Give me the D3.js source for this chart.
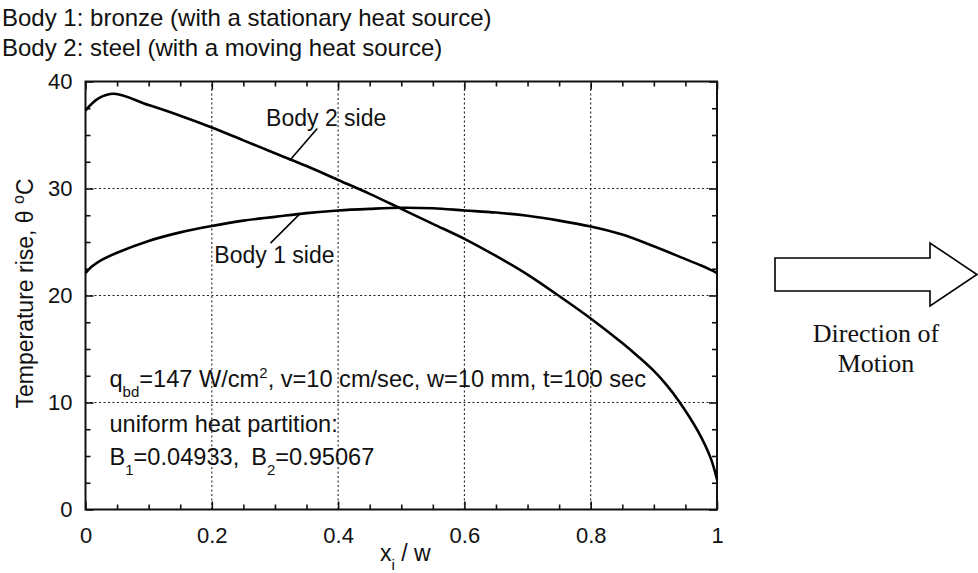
<!DOCTYPE html>
<html>
<head>
<meta charset="utf-8">
<script src="https://cdn.jsdelivr.net/npm/d3@7"></script>
<style>
  html, body { margin: 0; padding: 0; background: #fff; }
  svg { display: block; }
  text { font-family: "Liberation Sans", Arial, Helvetica, sans-serif; fill: #111; }
</style>
</head>
<body>
<script>
// ---- data ----
const titleLines = [
  "Body 1: bronze (with a stationary heat source)",
  "Body 2: steel (with a moving heat source)"
];
const xMajorTicks = [0, 0.2, 0.4, 0.6, 0.8, 1];
const xTickLabels = ["0", "0.2", "0.4", "0.6", "0.8", "1"];
const yMajorTicks = [0, 10, 20, 30, 40];
const yTickLabels = ["0", "10", "20", "30", "40"];
const xGrid = [0.2, 0.4, 0.6, 0.8];
const yGrid = [10, 20, 30];

const body1X = [0, 0.01, 0.025, 0.05, 0.1, 0.15, 0.2, 0.25, 0.3, 0.35, 0.4, 0.45, 0.5, 0.55, 0.6, 0.65, 0.7, 0.75, 0.8, 0.85, 0.9, 0.95, 0.975, 0.99, 1.0];
const body1Y = [22.1, 22.7, 23.3, 24.0, 25.1, 25.9, 26.5, 27.0, 27.35, 27.7, 27.95, 28.1, 28.2, 28.15, 27.95, 27.75, 27.45, 27.0, 26.45, 25.7, 24.6, 23.4, 22.8, 22.4, 22.1];

const body2X = [0, 0.02, 0.045, 0.1, 0.15, 0.2, 0.25, 0.3, 0.35, 0.4, 0.45, 0.5, 0.55, 0.6, 0.65, 0.7, 0.75, 0.8, 0.85, 0.875, 0.9, 0.92, 0.94, 0.97, 0.99, 1.0];
const body2Y = [37.3, 38.4, 38.85, 37.8, 36.8, 35.7, 34.5, 33.3, 32.1, 30.8, 29.5, 28.1, 26.7, 25.3, 23.7, 21.95, 19.95, 17.85, 15.55, 14.3, 12.95, 11.65, 10.1, 7.3, 4.8, 2.8];

// ---- layout ----
const W = 978, H = 573;
const svg = d3.select("body").append("svg").attr("width", W).attr("height", H);

const x = d3.scaleLinear().domain([0, 1]).range([85.5, 717]);
const y = d3.scaleLinear().domain([0, 40]).range([509.5, 81.5]);

// titles
svg.selectAll("text.title").data(titleLines).enter().append("text")
  .attr("class", "title")
  .attr("x", 2)
  .attr("y", (d, i) => 26 + i * 30)
  .style("font-size", "24px")
  .text(d => d);

// gridlines
const grid = svg.append("g").attr("stroke", "#222").attr("stroke-width", 1.1).attr("stroke-dasharray", "2,2.5");
grid.selectAll("line.gx").data(xGrid).enter().append("line")
  .attr("x1", d => x(d)).attr("x2", d => x(d))
  .attr("y1", y(0)).attr("y2", y(40));
grid.selectAll("line.gy").data(yGrid).enter().append("line")
  .attr("x1", x(0)).attr("x2", x(1))
  .attr("y1", d => y(d)).attr("y2", d => y(d));

// minor ticks
const xMinor = d3.range(0, 1.0001, 0.05).filter(v => Math.abs(v * 5 - Math.round(v * 5)) > 1e-6);
const yMinor = d3.range(0, 40.001, 2.5).filter(v => v % 10 !== 0);

function styleAxis(g) {
  g.select(".domain").remove();
  g.selectAll(".tick line").attr("stroke", "#111").attr("stroke-width", 1.6);
  g.selectAll(".tick text").style("font-size", "22px").attr("fill", "#111")
    .style("font-family", "'Liberation Sans', Arial, Helvetica, sans-serif");
}

// bottom axis (major, labels)
svg.append("g").attr("transform", `translate(0,${y(0)})`)
  .call(d3.axisBottom(x).tickValues(xMajorTicks).tickSize(-8).tickPadding(18)
    .tickFormat((d, i) => xTickLabels[i]))
  .call(styleAxis);
svg.append("g").attr("transform", `translate(0,${y(0)})`)
  .call(d3.axisBottom(x).tickValues(xMinor).tickSize(-5).tickFormat(""))
  .call(styleAxis);
// top axis
svg.append("g").attr("transform", `translate(0,${y(40)})`)
  .call(d3.axisTop(x).tickValues(xMajorTicks).tickSize(-8).tickFormat(""))
  .call(styleAxis);
svg.append("g").attr("transform", `translate(0,${y(40)})`)
  .call(d3.axisTop(x).tickValues(xMinor).tickSize(-5).tickFormat(""))
  .call(styleAxis);
// left axis
svg.append("g").attr("transform", `translate(${x(0)},0)`)
  .call(d3.axisLeft(y).tickValues(yMajorTicks).tickSize(-8).tickPadding(13)
    .tickFormat((d, i) => yTickLabels[i]))
  .call(styleAxis);
svg.append("g").attr("transform", `translate(${x(0)},0)`)
  .call(d3.axisLeft(y).tickValues(yMinor).tickSize(-5).tickFormat(""))
  .call(styleAxis);
// right axis
svg.append("g").attr("transform", `translate(${x(1)},0)`)
  .call(d3.axisRight(y).tickValues(yMajorTicks).tickSize(-8).tickFormat(""))
  .call(styleAxis);
svg.append("g").attr("transform", `translate(${x(1)},0)`)
  .call(d3.axisRight(y).tickValues(yMinor).tickSize(-5).tickFormat(""))
  .call(styleAxis);

// frame
svg.append("rect")
  .attr("x", x(0)).attr("y", y(40))
  .attr("width", x(1) - x(0)).attr("height", y(0) - y(40))
  .attr("fill", "none").attr("stroke", "#111").attr("stroke-width", 2);

// curves
const line = d3.line().x(d => x(d[0])).y(d => y(d[1])).curve(d3.curveCatmullRom.alpha(0.5));
const series = [
  { name: "Body 1 side", pts: body1X.map((v, i) => [v, body1Y[i]]) },
  { name: "Body 2 side", pts: body2X.map((v, i) => [v, body2Y[i]]) }
];
svg.selectAll("path.curve").data(series).enter().append("path")
  .attr("class", "curve")
  .attr("d", d => line(d.pts))
  .attr("fill", "none").attr("stroke", "#000").attr("stroke-width", 2.6)
  .attr("stroke-linejoin", "round");

// curve labels with leader lines (positions in data units)
const curveLabels = [
  { text: "Body 2 side", tx: 0.286, ty: 35.8, lx1: 0.367, ly1: 35.6, lx2: 0.323, ly2: 32.6 },
  { text: "Body 1 side", tx: 0.204, ty: 23.0, lx1: 0.339, ly1: 27.6, lx2: 0.293, ly2: 24.9 }
];
curveLabels.forEach(c => {
  svg.append("line")
    .attr("x1", x(c.lx1)).attr("y1", y(c.ly1))
    .attr("x2", x(c.lx2)).attr("y2", y(c.ly2))
    .attr("stroke", "#000").attr("stroke-width", 1.6);
  svg.append("text").attr("x", x(c.tx)).attr("y", y(c.ty))
    .style("font-size", "23px").text(c.text);
});

// parameter annotation
const ann = svg.append("g").style("font-size", "23.6px");
const t1 = ann.append("text").attr("x", x(0.038)).attr("y", y(11.45));
t1.append("tspan").text("q");
t1.append("tspan").attr("dy", 10).style("font-size", "15px").text("bd");
t1.append("tspan").attr("dy", -10).text("=147 W/cm");
t1.append("tspan").attr("dy", -9).style("font-size", "15px").text("2");
t1.append("tspan").attr("dy", 9).text(", v=10 cm/sec, w=10 mm, t=100 sec");

ann.append("text").attr("x", x(0.038)).attr("y", y(7.25)).text("uniform heat partition:");

const t3 = ann.append("text").attr("x", x(0.038)).attr("y", y(4.15));
t3.append("tspan").text("B");
t3.append("tspan").attr("dy", 10).style("font-size", "15px").text("1");
t3.append("tspan").attr("dy", -10).text("=0.04933,");
t3.append("tspan").attr("dx", 12).text("B");
t3.append("tspan").attr("dy", 10).style("font-size", "15px").text("2");
t3.append("tspan").attr("dy", -10).text("=0.95067");

// axis titles
const yl = svg.append("text")
  .attr("transform", `translate(33,${(y(0) + y(40)) / 2 - 2}) rotate(-90)`)
  .attr("text-anchor", "middle")
  .style("font-size", "23px");
yl.append("tspan").text("Temperature rise, \u03B8 ");
yl.append("tspan").attr("dy", -9).style("font-size", "16px").text("o");
yl.append("tspan").attr("dy", 9).text("C");

const xl = svg.append("text")
  .attr("x", (x(0) + x(1)) / 2 + 4).attr("y", 561)
  .attr("text-anchor", "middle")
  .style("font-size", "23px");
xl.append("tspan").text("x");
xl.append("tspan").attr("dy", 9).style("font-size", "15px").text("i");
xl.append("tspan").attr("dy", -9).text(" / w");

// direction-of-motion arrow
const arrowShape = [[0, 16], [155, 16], [155, 1], [202, 32.5], [155, 64], [155, 49], [0, 49]];
svg.append("polygon")
  .attr("transform", "translate(775,242)")
  .attr("points", arrowShape.map(p => p.join(",")).join(" "))
  .attr("fill", "#fff").attr("stroke", "#000").attr("stroke-width", 1.6)
  .attr("stroke-linejoin", "miter");

const motionLines = ["Direction of", "Motion"];
svg.selectAll("text.motion").data(motionLines).enter().append("text")
  .attr("class", "motion")
  .attr("x", 876).attr("y", (d, i) => 342 + i * 30)
  .attr("text-anchor", "middle")
  .style("font-family", "'Liberation Serif', 'Times New Roman', serif")
  .style("font-size", "26px")
  .text(d => d);
</script>
</body>
</html>
